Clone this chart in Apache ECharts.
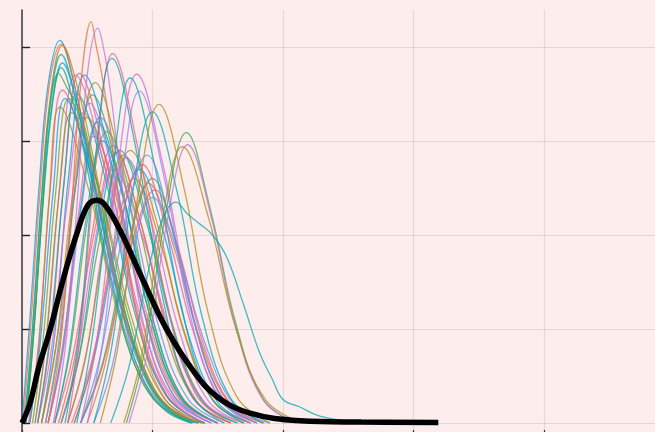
<!DOCTYPE html>
<html>
<head>
<meta charset="utf-8">
<script src="https://cdn.jsdelivr.net/npm/echarts@6/dist/echarts.min.js"></script>
<style>html,body{margin:0;padding:0;background:#fdeded;overflow:hidden;width:655px;height:432px;}#c{width:655px;height:520px;}</style>
</head>
<body>
<div id="c"></div>
<script>
// palette (Plots.jl default)
const palette = ['#009AFA','#E36F47','#3EA44E','#C371D2','#AC8D18','#00A9AD','#ED5E93','#C68225','#00A98D','#8E971E','#00A8CB','#9B7FE9','#618DF6','#F05F73','#DD65B6','#6C9E33'];

// tall narrow curves near the left
const leftPeaks = [
  [[0,0],[0.06,1.1],[0.13,2.5],[0.2,3.6],[0.29,4.07],[0.4,3.6],[0.52,2.8],[0.7,1.6],[0.9,0.65],[1.1,0.18],[1.35,0]],
  [[0.01,0],[0.07,1.1],[0.14,2.5],[0.21,3.6],[0.30,4.03],[0.41,3.55],[0.53,2.75],[0.71,1.55],[0.91,0.62],[1.12,0.17],[1.38,0]],
  [[0.02,0],[0.08,1.0],[0.15,2.4],[0.22,3.5],[0.31,4.02],[0.42,3.6],[0.55,2.8],[0.73,1.5],[0.93,0.6],[1.14,0.15],[1.4,0]],
  [[0.02,0],[0.08,1.0],[0.15,2.4],[0.22,3.45],[0.30,3.92],[0.41,3.45],[0.53,2.6],[0.7,1.45],[0.9,0.55],[1.1,0.15],[1.32,0]],
  [[0.03,0],[0.09,1.0],[0.16,2.35],[0.23,3.4],[0.31,3.83],[0.42,3.4],[0.55,2.55],[0.72,1.45],[0.92,0.55],[1.12,0.14],[1.35,0]],
  [[0.03,0],[0.09,0.95],[0.16,2.3],[0.23,3.35],[0.30,3.78],[0.41,3.3],[0.53,2.5],[0.7,1.4],[0.9,0.5],[1.1,0.13],[1.3,0]],
  [[0.03,0],[0.09,0.95],[0.15,2.2],[0.21,3.3],[0.28,3.72],[0.35,3.55],[0.45,3.3],[0.58,2.5],[0.75,1.4],[0.95,0.5],[1.15,0.12],[1.4,0]]
];
const leftColors = [0,1,4,5,10,8,2];

// distinct higher / right-shifted curves
const rightPeaks = [
  [[0.2,0],[0.3,0.9],[0.38,2.3],[0.45,3.6],[0.53,4.27],[0.57,4.0],[0.61,3.72],[0.67,3.2],[0.78,2.0],[0.92,0.9],[1.1,0.25],[1.35,0]],
  [[0.24,0],[0.34,0.9],[0.42,2.3],[0.5,3.7],[0.58,4.2],[0.63,3.95],[0.68,3.5],[0.75,2.7],[0.86,1.6],[1.0,0.7],[1.18,0.2],[1.4,0]],
  [[0.35,0],[0.45,0.98],[0.57,2.83],[0.695,3.93],[0.89,2.91],[1.10,1.34],[1.33,0.31],[1.6,0]],
  [[0.33,0],[0.44,0.97],[0.56,2.79],[0.69,3.88],[0.88,2.87],[1.08,1.32],[1.29,0.31],[1.55,0]],
  [[0.45,0],[0.58,0.93],[0.73,2.67],[0.88,3.71],[1.08,2.75],[1.29,1.26],[1.52,0.30],[1.8,0]],
  [[0.42,0],[0.54,0.92],[0.69,2.64],[0.83,3.67],[1.02,2.72],[1.22,1.25],[1.44,0.29],[1.7,0]],
  [[0.5,0],[0.62,0.88],[0.76,2.54],[0.9,3.53],[1.09,2.61],[1.28,1.2],[1.5,0.28],[1.75,0]],
  [[0.6,0],[0.74,0.85],[0.89,2.44],[1.05,3.39],[1.24,2.51],[1.43,1.15],[1.65,0.27],[1.9,0]],
  [[0.55,0],[0.69,0.83],[0.84,2.38],[1.0,3.31],[1.19,2.45],[1.38,1.13],[1.6,0.26],[1.85,0]],
  [[0.8,0],[0.94,0.77],[1.10,2.22],[1.26,3.09],[1.44,2.29],[1.64,1.05],[1.85,0.25],[2.1,0]],
  [[0.82,0],[0.96,0.74],[1.11,2.13],[1.27,2.96],[1.45,2.19],[1.64,1.01],[1.85,0.24],[2.1,0]],
  [[0.78,0],[0.92,0.74],[1.07,2.12],[1.23,2.94],[1.43,2.18],[1.64,1.0],[1.87,0.24],[2.15,0]],
  [[0.68,0],[0.82,0.6],[0.95,1.5],[1.07,2.15],[1.18,2.35],[1.27,2.22],[1.36,2.12],[1.46,2.0],[1.57,1.76],[1.7,1.25],[1.82,0.75],[1.92,0.46],[2.0,0.25],[2.13,0.17],[2.26,0.085],[2.44,0.03],[2.6,0]],
  [[0.45,0],[0.6,0.71],[0.78,2.05],[0.96,2.85],[1.14,2.11],[1.34,0.97],[1.55,0.23],[1.8,0]]
];
const rightColors = [1,3,6,5,3,5,11,4,5,2,3,4,5,12];

// the main mass of curves
const midPeaks = [
  [[0.05,0],[0.13,0.89],[0.22,2.55],[0.31,3.54],[0.53,2.62],[0.76,1.2],[1.0,0.28],[1.3,0]],
  [[0.06,0],[0.13,0.84],[0.21,2.42],[0.29,3.36],[0.51,2.49],[0.74,1.14],[1.0,0.27],[1.3,0]],
  [[0.1,0],[0.19,0.93],[0.3,2.66],[0.41,3.70],[0.63,2.74],[0.86,1.26],[1.1,0.3],[1.4,0]],
  [[0.12,0],[0.22,0.93],[0.33,2.68],[0.44,3.72],[0.65,2.75],[0.87,1.26],[1.11,0.3],[1.4,0]],
  [[0.15,0],[0.25,0.93],[0.36,2.66],[0.48,3.70],[0.69,2.74],[0.92,1.26],[1.16,0.3],[1.45,0]],
  [[0.15,0],[0.27,0.91],[0.42,2.61],[0.56,3.62],[0.77,2.68],[0.98,1.23],[1.22,0.29],[1.5,0]],
  [[0.18,0],[0.29,0.87],[0.41,2.51],[0.54,3.49],[0.75,2.58],[0.97,1.19],[1.21,0.28],[1.5,0]],
  [[0.12,0],[0.23,0.83],[0.35,2.38],[0.47,3.3],[0.69,2.44],[0.91,1.12],[1.16,0.26],[1.45,0]],
  [[0.15,0],[0.26,0.81],[0.38,2.34],[0.5,3.25],[0.72,2.41],[0.95,1.11],[1.2,0.26],[1.5,0]],
  [[0.2,0],[0.31,0.8],[0.45,2.3],[0.58,3.2],[0.78,2.37],[0.99,1.09],[1.22,0.26],[1.5,0]],
  [[0.2,0],[0.32,0.81],[0.46,2.34],[0.6,3.25],[0.81,2.41],[1.03,1.11],[1.27,0.26],[1.55,0]],
  [[0.25,0],[0.37,0.78],[0.51,2.23],[0.65,3.1],[0.86,2.29],[1.08,1.05],[1.32,0.25],[1.6,0]],
  [[0.25,0],[0.39,0.72],[0.56,2.07],[0.72,2.88],[0.91,2.13],[1.12,0.98],[1.34,0.23],[1.6,0]],
  [[0.3,0],[0.44,0.73],[0.59,2.09],[0.75,2.9],[0.95,2.15],[1.16,0.99],[1.38,0.23],[1.65,0]],
  [[0.3,0],[0.44,0.71],[0.61,2.05],[0.78,2.85],[0.97,2.11],[1.17,0.97],[1.39,0.23],[1.65,0]],
  [[0.28,0],[0.41,0.74],[0.55,2.12],[0.7,2.95],[0.9,2.18],[1.11,1.0],[1.33,0.24],[1.6,0]],
  [[0.35,0],[0.49,0.71],[0.64,2.03],[0.8,2.82],[1.0,2.09],[1.21,0.96],[1.43,0.23],[1.7,0]],
  [[0.35,0],[0.49,0.73],[0.66,2.09],[0.83,2.9],[1.03,2.15],[1.24,0.99],[1.47,0.23],[1.75,0]],
  [[0.45,0],[0.62,0.62],[0.82,1.79],[1.02,2.48],[1.2,1.84],[1.39,0.84],[1.6,0.2],[1.85,0]],
  [[0.45,0],[0.62,0.65],[0.81,1.87],[1.0,2.6],[1.18,1.92],[1.36,0.88],[1.56,0.21],[1.8,0]],
  [[0.4,0],[0.55,0.68],[0.73,1.94],[0.9,2.7],[1.09,2.0],[1.28,0.92],[1.5,0.22],[1.75,0]],
  [[0.25,0],[0.36,0.75],[0.49,2.16],[0.62,3.0],[0.81,2.22],[1.02,1.02],[1.24,0.24],[1.5,0]],
  [[0.2,0],[0.31,0.76],[0.43,2.2],[0.55,3.05],[0.76,2.26],[0.98,1.04],[1.22,0.24],[1.5,0]],
  [[0.18,0],[0.28,0.85],[0.4,2.45],[0.52,3.4],[0.72,2.52],[0.94,1.16],[1.17,0.27],[1.45,0]],
  [[0.1,0],[0.18,0.83],[0.28,2.38],[0.38,3.3],[0.6,2.44],[0.84,1.12],[1.09,0.26],[1.4,0]],
  [[0.4,0],[0.54,0.65],[0.7,1.87],[0.86,2.6],[1.06,1.92],[1.26,0.88],[1.48,0.21],[1.75,0]],
  [[0.08,0],[0.16,0.86],[0.26,2.48],[0.36,3.45],[0.58,2.55],[0.81,1.17],[1.05,0.28],[1.35,0]],
  [[0.38,0],[0.54,0.69],[0.73,1.98],[0.92,2.75],[1.11,2.04],[1.32,0.94],[1.54,0.22],[1.8,0]],
  [[0.5,0],[0.64,0.64],[0.81,1.84],[0.97,2.55],[1.16,1.89],[1.37,0.87],[1.59,0.2],[1.85,0]],
  [[0.12,0],[0.21,0.88],[0.32,2.52],[0.42,3.5],[0.64,2.59],[0.86,1.19],[1.11,0.28],[1.4,0]],
  [[0.06,0],[0.14,0.86],[0.24,2.48],[0.33,3.45],[0.55,2.55],[0.79,1.17],[1.04,0.28],[1.35,0]],
  [[0.55,0],[0.69,0.6],[0.84,1.73],[1.0,2.4],[1.2,1.78],[1.41,0.82],[1.63,0.19],[1.9,0]],
  [[0.3,0],[0.42,0.68],[0.56,1.94],[0.7,2.7],[0.92,2.0],[1.15,0.92],[1.4,0.22],[1.7,0]]
];
const midColors = [6,4,3,13,0,9,2,14,7,8,12,15,6,5,2,1,3,4,13,2,0,10,14,11,9,7,15,6,1,5,0,12,3];

// thick black mean curve
const meanCurve = [[0,0],[0.061,0.21],[0.13,0.6],[0.215,0.99],[0.314,1.52],[0.421,2.02],[0.506,2.32],[0.575,2.37],[0.636,2.32],[0.751,2.05],[0.927,1.52],[1.111,0.99],[1.31,0.56],[1.494,0.28],[1.747,0.106],[2.13,0.025],[2.6,0.01],[3.19,0.005]];

const xRange = [0, 4.8506];
const yRange = [-1, 4.3936];
const xTicks = [0, 1, 2, 3, 4];
const yTicks = [-1, 0, 1, 2, 3, 4];

const series = [];
function addGroup(group, colors) {
  group.forEach((pts, i) => {
    series.push({
      type: 'line', data: pts, showSymbol: false, smooth: 0.4,
      lineStyle: { color: palette[colors[i]], width: 1.3, opacity: 0.75 },
      silent: true, z: 2
    });
  });
}
addGroup(midPeaks, midColors);
addGroup(leftPeaks, leftColors);
addGroup(rightPeaks, rightColors);
series.push({
  type: 'line', data: meanCurve, showSymbol: false, smooth: 0.4,
  lineStyle: { color: '#000', width: 5.5 }, silent: true, z: 5
});

const chart = echarts.init(document.getElementById('c'), null, { renderer: 'canvas' });
chart.setOption({
  animation: false,
  backgroundColor: '#fdeded',
  grid: { left: 22, right: 0, top: 10, bottom: 3, containLabel: false },
  xAxis: {
    type: 'value', min: xRange[0], max: xRange[1], interval: 1,
    axisLabel: { show: false, customValues: xTicks },
    axisLine: { show: false, onZero: false },
    axisTick: { show: true, inside: true, length: 87, customValues: xTicks, lineStyle: { color: '#333', width: 1.2 } },
    splitLine: { show: true, lineStyle: { color: 'rgba(0,0,0,0.09)', width: 1.2 } }
  },
  yAxis: {
    type: 'value', min: yRange[0], max: yRange[1], interval: 1,
    axisLabel: { show: false, customValues: yTicks },
    axisLine: { show: true, onZero: false, lineStyle: { color: '#444', width: 1.6 } },
    axisTick: { show: true, inside: true, length: 8, customValues: yTicks, lineStyle: { color: '#222', width: 1.4 } },
    splitLine: { show: true, lineStyle: { color: 'rgba(0,0,0,0.09)', width: 1.2 } }
  },
  series: series
});
</script>
</body>
</html>
